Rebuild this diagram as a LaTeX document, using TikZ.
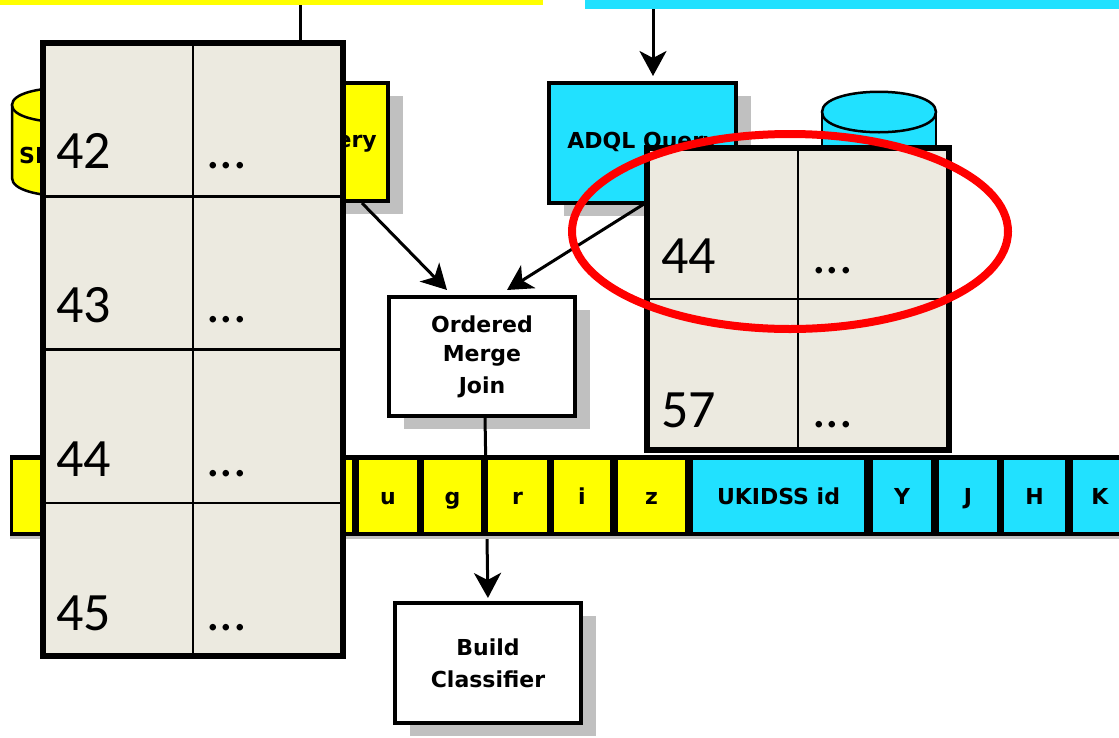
\documentclass[tikz,border=0pt]{standalone}
\usepackage{fontspec}
\usetikzlibrary{calc,shadows,shapes.geometric,arrows.meta}
\newfontfamily\boxfont{DejaVu Sans}
\newfontfamily\numfont{Carlito}
\definecolor{sdssyellow}{RGB}{255,255,0}
\definecolor{ukcyan}{RGB}{33,225,255}
\definecolor{cellgrey}{RGB}{236,234,224}
\definecolor{shadowgrey}{RGB}{192,192,192}
\definecolor{hlred}{RGB}{255,0,0}
\begin{document}
\begin{tikzpicture}[x=1pt,y=-1pt,
  boxlbl/.style={font=\boxfont\bfseries\fontsize{22}{32}\selectfont},
  box/.style={boxlbl, draw=black, line width=4pt, inner sep=0pt, outer sep=0pt, align=center,
    minimum width=186pt, minimum height=120pt,
    drop shadow={shadow xshift=15pt, shadow yshift=-13pt, fill=shadowgrey, opacity=1}},
  cell/.style={boxlbl, inner sep=0pt, outer sep=0pt, minimum height=72pt, text height=16pt, text depth=0pt},
  tab/.style={draw=black, line width=6pt, fill=cellgrey, inner sep=0pt, outer sep=0pt},
  gridline/.style={draw=black, line width=2.5pt},
  num/.style={font=\numfont\fontsize{54}{60}\selectfont, inner sep=0pt, outer sep=0pt, anchor=base west},
  conn/.style={draw=black, line width=3pt},
  arr/.style={conn, -{Stealth[length=25pt,width=27pt,inset=7pt]}},
  cyl/.style={draw=black, line width=2.5pt},
]
\useasboundingbox (0,0) rectangle (1119,737);

% top strips
\node[fill=sdssyellow, anchor=north west, minimum width=543pt, minimum height=5pt, inner sep=0pt, outer sep=0pt] (ytop) at (0,0) {};
\node[fill=ukcyan, anchor=north west, minimum width=534pt, minimum height=9pt, inner sep=0pt, outer sep=0pt] (ctop) at (585,0) {};
\coordinate (yl) at (300,5);
\coordinate (cl) at (653,9);

% yellow cylinder
\filldraw[cyl, fill=sdssyellow] (12,105) -- (12,178) .. controls (12,202) and (118,202) .. (118,178) -- (118,105) -- cycle;
\filldraw[cyl, fill=sdssyellow] (12,105) .. controls (12,82) and (118,82) .. (118,105) .. controls (118,128) and (12,128) .. (12,105) -- cycle;
\node[boxlbl, inner sep=0pt, anchor=base west] (cyltxt) at (19,163) {SD};

% cyan cylinder
\filldraw[cyl, fill=ukcyan] (822,112) -- (822,230) -- (936,230) -- (936,112) -- cycle;
\filldraw[cyl, fill=ukcyan] (822,112) .. controls (822,85) and (936,85) .. (936,112) .. controls (936,139) and (822,139) .. (822,112) -- cycle;

% query boxes
\node[box, fill=sdssyellow, minimum width=153pt, minimum height=118pt] (query) at (311.5,142) {SQL Query};
\node[box, fill=ukcyan, minimum width=187pt, minimum height=120pt] (adql) at (642.5,143) {ADQL Query};

% merge and classifier
\node[box, fill=white, minimum width=186pt, minimum height=119pt] (merge) at (482,356.5) {\raisebox{-3pt}{Ordered}\\Merge\\Join};
\node[box, fill=white, minimum width=186pt, minimum height=120pt] (classifier) at (488,663) {Build\\Classifier};

% connectors
\draw[conn] (ytop.south -| yl) -- (yl |- 0,40);
\draw[arr, shorten >=7pt] (ctop.south -| cl) -- (cl |- adql.north);
\draw[arr] ($(query.south east)+(-26,2)$) -- ($(merge.north)+(-35,-7)$);
\draw[arr] ($(adql.south)+(3,0)$) -- ($(merge.north)+(25,-7)$);
\draw[arr, shorten >=3pt] ($(merge.south)+(3,0)$) -- ($(classifier.north)+(0,-2)$);

% attribute bar
\node[fill=black, anchor=north west, minimum width=1130pt, minimum height=81pt, inner sep=0pt, outer sep=0pt,
  drop shadow={shadow xshift=0pt, shadow yshift=-3pt, fill=shadowgrey, opacity=1}] (bar) at (10,455) {};
\node[cell, fill=sdssyellow, minimum width=339pt] (c0) at (182.5,496) {};
\node[cell, fill=sdssyellow, minimum width=58pt] (cu) at (388,496) {u};
\node[cell, fill=sdssyellow, minimum width=57pt] (cg) at (452.5,496) {g};
\node[cell, fill=sdssyellow, minimum width=59pt] (cr) at (517.5,496) {r};
\node[cell, fill=sdssyellow, minimum width=56pt] (ci) at (582,496) {i};
\node[cell, fill=sdssyellow, minimum width=67pt] (cz) at (651.5,496) {z};
\node[cell, fill=ukcyan, minimum width=171pt] (cuk) at (778.5,496) {UKIDSS id};
\node[cell, fill=ukcyan, minimum width=58pt] (cY) at (902,496) {Y};
\node[cell, fill=ukcyan, minimum width=58pt] (cJ) at (968,496) {J};
\node[cell, fill=ukcyan, minimum width=61pt] (cH) at (1034.5,496) {H};
\node[cell, fill=ukcyan, minimum width=54pt] (cK) at (1100,496) {K};

% left table
\node[tab, minimum width=300pt, minimum height=613pt] (ltab) at (193,349.5) {};
\draw[gridline] (ltab.north) -- (ltab.south);
\foreach \f in {0.25,0.5,0.75}
  \draw[gridline] ($(ltab.north west)!\f!(ltab.south west)$) -- ($(ltab.north east)!\f!(ltab.south east)$);
\node[num] (l1a) at (56,168) {42};
\node[num] (l1b) at (206,168) {...};
\node[num] (l2a) at (56,322) {43};
\node[num] (l2b) at (206,322) {...};
\node[num] (l3a) at (56,476) {44};
\node[num] (l3b) at (206,476) {...};
\node[num] (l4a) at (56,630) {45};
\node[num] (l4b) at (206,630) {...};

% right table
\node[tab, minimum width=302pt, minimum height=302pt] (rtab) at (798,299) {};
\draw[gridline] (rtab.north) -- (rtab.south);
\draw[gridline] (rtab.west) -- (rtab.east);
\node[num] (r1a) at (661,273) {44};
\node[num] (r1b) at (812,273) {...};
\node[num] (r2a) at (661,427) {57};
\node[num] (r2b) at (812,427) {...};

% highlight
\node[ellipse, draw=hlred, line width=8pt, minimum width=436pt, minimum height=195pt, inner sep=0pt] (hl) at (790,231.5) {};
\end{tikzpicture}
\end{document}
